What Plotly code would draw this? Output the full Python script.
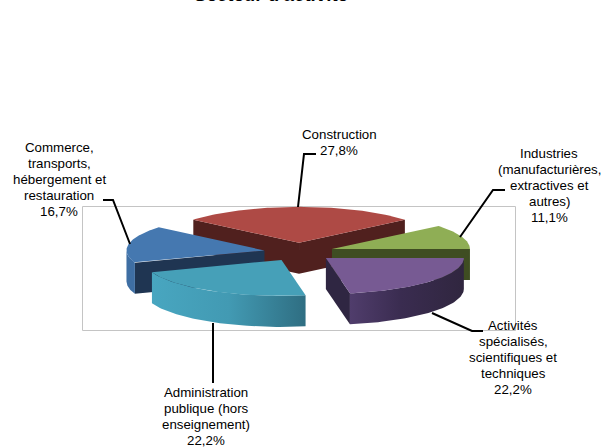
import numpy as np
import plotly.graph_objects as go

# Data
categories = ["Construction", "Industries", "Activités", "Administration", "Commerce"]
shares = [27.8, 11.1, 22.2, 22.2, 16.7]
label_lines = [
    ["Construction"],
    ["Industries", "(manufacturières,", "extractives et", "autres)"],
    ["Activités", "spécialisés,", "scientifiques et", "techniques"],
    ["Administration", "publique (hors", "enseignement)"],
    ["Commerce,", "transports,", "hébergement et", "restauration"],
]
title_text = "Secteur d'activité"

# Styles
top_colors = ["#ae4a45", "#8fae55", "#775a93", "#46a0b8", "#4578b0"]
cut_colors = ["#50201e", "#3f4d22", "#2f2642", "#46a0b8", "#1f3552"]
side_scales = [
    [[0, "#50201e"], [1, "#50201e"]],
    [[0, "#55692d"], [1, "#55692d"]],
    [[0, "#503d6c"], [0.45, "#3a2c50"], [1, "#30263f"]],
    [[0, "#48a6c0"], [0.5, "#429ab3"], [1, "#2f6e82"]],
    [[0, "#3e6ea3"], [1, "#3e6ea3"]],
]
label_pos = [(339, 134), (549, 153), (513, 325), (206, 392), (59, 147)]
leaders = [
    [(298, 207), (304, 154), (316, 154)],
    [(460, 237), (493, 190), (505, 190)],
    [(432, 313), (472, 331), (483, 331)],
    [(213, 323), (213, 383)],
    [(103, 200), (113, 200), (130, 244)],
]
draw_order = [0, 1, 4, 2, 3]
CX, CY, RX, RY, THICK, PULL, START = 299, 252, 138, 36, 31, 0.254, -50

fig = go.Figure()


def px(tipx, tipy, theta):
    t = np.radians(theta)
    return tipx + RX * np.sin(t), tipy - RY * np.cos(t)


def poly(x, y, **kw):
    fig.add_trace(go.Scatter(x=x, y=y, mode="lines", fill="toself", hoverinfo="skip",
                             line=dict(width=0), showlegend=False, **kw))


total = sum(shares)
starts = START + 360 * np.r_[0, np.cumsum(shares)[:-1]] / total
for i in draw_order:
    a0 = starts[i]
    a1 = a0 + 360 * shares[i] / total
    mid = np.radians((a0 + a1) / 2)
    tx = CX + PULL * RX * np.sin(mid)
    ty = CY - PULL * RY * np.cos(mid)
    # cut faces (visible when their outward normal faces the viewer)
    for edge, normal in ((a0, a0 - 90), (a1, a1 + 90)):
        if np.cos(np.radians(normal)) < -1e-6:
            ex, ey = px(tx, ty, edge)
            poly([tx, ex, ex, tx, tx], [ty, ey, ey + THICK, ty + THICK, ty],
                 fillcolor=cut_colors[i])
    # outer wall (front half of the rim only)
    lo, hi = max(a0 % 360, 90), min(a0 % 360 + (a1 - a0), 270)
    if hi > lo:
        th = np.linspace(lo, hi, 60)
        ox, oy = px(tx, ty, th)
        poly(np.r_[ox, ox[::-1], ox[0]], np.r_[oy, oy[::-1] + THICK, oy[0]],
             fillcolor=side_scales[i][0][1],
             fillgradient=dict(type="horizontal", colorscale=side_scales[i]))
    # top face
    th = np.linspace(a0, a1, 80)
    ox, oy = px(tx, ty, th)
    poly(np.r_[tx, ox, tx], np.r_[ty, oy, ty], fillcolor=top_colors[i])

for pts in leaders:
    fig.add_trace(go.Scatter(x=[p[0] for p in pts], y=[p[1] for p in pts], mode="lines",
                             line=dict(color="black", width=2), hoverinfo="skip", showlegend=False))

font = dict(family="Liberation Sans, Arial, sans-serif", size=13.3, color="black")
annotations = []
for lines, v, (x, y) in zip(label_lines, shares, label_pos):
    pct = f"{v:.1f}%".replace(".", ",")
    for k, line in enumerate(lines + [pct]):
        annotations.append(dict(x=x, y=y + 16 * k, xref="x", yref="y", text=line, showarrow=False,
                                font=font, xanchor="center", yanchor="middle"))
annotations.append(dict(x=271 / 604, y=1, xref="paper", yref="paper", text=f"<b>{title_text}</b>", showarrow=False,
                        font=dict(family="Liberation Sans, Arial, sans-serif", size=18.7, color="black"),
                        xanchor="center", yanchor="middle", yshift=6))

fig.update_layout(
    width=604, height=448, margin=dict(l=0, r=0, t=0, b=0),
    paper_bgcolor="white", plot_bgcolor="white", showlegend=False,
    xaxis=dict(range=[0, 604], visible=False, fixedrange=True),
    yaxis=dict(range=[448, 0], visible=False, fixedrange=True),
    annotations=annotations,
    shapes=[dict(type="rect", x0=82.5, x1=515.5, y0=206.5, y1=330.5, xref="x", yref="y", layer="below",
                 line=dict(color="#c4c4c4", width=1))],
)
fig.write_html("out.html", config={"displayModeBar": False},
               post_script="document.body.style.margin='0';")
